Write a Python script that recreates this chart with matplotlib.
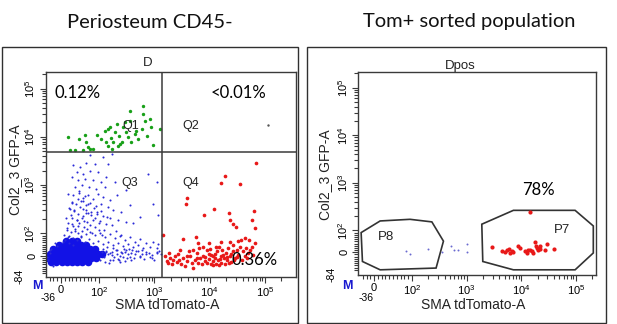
import numpy as np
import matplotlib
matplotlib.use("Agg")
import matplotlib.pyplot as plt
from matplotlib.patches import Rectangle, Polygon

plt.rcParams['font.family'] = ['Liberation Sans', 'DejaVu Sans']
plt.rcParams['mathtext.fontset'] = 'custom'
plt.rcParams['mathtext.rm'] = 'Liberation Sans'
plt.rcParams['mathtext.it'] = 'Liberation Sans:italic'

W, H = 617, 324

# ---- left panel (Periosteum CD45-) : events ----
green_x = [19, 48, 63, 67, 76, 84, 95, 110, 127, 145, 156, 163, 175, 207, 221, 237, 255, 266, 292, 313,
           335, 360, 370, 386, 443, 475, 508, 586, 611, 625, 673, 722, 828, 863, 951, 1256, 230, 136, 192, 145,
           24, 37, 58, 71, 168]
green_y = [9820, 9100, 11000, 8000, 5650, 5650, 11000, 9100, 13500, 14600, 15800, 9400, 7750, 18500, 6600,
           7200, 7750, 15800, 20000, 12400, 9820, 21700, 34800, 7750, 11500, 13500, 9100, 14600, 29800, 44200,
           21700, 10600, 23500, 15800, 6840, 14600, 10600, 7750, 12400, 6600, 5220, 5220, 5470, 6110, 5650]

red_x = [68900, 18900, 16400, 35300, 3820, 3720, 12100, 7990, 22700, 23300, 26800, 29900, 63400, 57500,
         66100, 1445, 3330, 5640, 6050, 43500, 50700, 33000, 16400, 23300,
         1550, 1710, 1910, 2130, 2350, 2520, 2810, 3100, 3330, 3560, 3930, 4390, 4710, 5050, 5410, 5800, 6220,
         6660, 7140, 7650, 8200, 8810, 9050, 9840, 10400, 10800, 11600, 12500, 13000, 13700, 14300, 14900,
         15800, 16400, 17100, 18100, 18900, 19700, 20800, 21700, 23300, 24900, 26800, 28700, 30800, 33000,
         35300, 37900, 40600, 43500, 45400, 48000, 50000, 53700, 57500, 61700, 66100, 1850, 2700, 4280, 6490,
         10100, 13000, 26100, 36300, 9840, 7650, 4910, 2890,
         11300, 12600, 15400, 17600, 20300, 22000, 24600, 27500, 31600, 14500, 11600, 9570, 8320, 5970, 3820,
         2190, 1800]
red_y = [2860, 1520, 1125, 1070, 552, 403, 328, 246, 267, 188, 156, 133, 293, 194, 127, 92, 75, 85, 59, 81,
         70, 67, 63, 63,
         -3, -25, -10, -40, -3, -29, -18, -40, -10, -47, -25, -3, -35, -54, -18, 12, -32, -10, -40, 0, -25, 26,
         -35, -15, -40, 4, -25, -10, -40, 19, -18, 41, 0, -32, 26, -10, -40, 12, -18, 34, -3, -29, 19, -10, 26,
         4, 41, -18, 19, 0, 34, -10, 12, 26, 41, 4, 56, 12, 9, 19, 34, 29, 38, 48, 70, 56, 41, 26, 26,
         -3, 9, -15, 4, -6, -32, 9, -21, -6, -44, -44, 9, -6, -10, 0, -18, -35]

blue_x = [75.7, 118, 168, 32.2, 49.6, 67, 88.8, 146, 40.9, 58.3, 75.7, 97.5, 27.9, 45.3, 62.7, 84.4, 110, 136,
          193, 36.6, 54, 74, 93.1, 127, 774, 1096, 313,
          19.2, 32.2, 47.9, 58.3, 71.4, 84.4, 97.5, 118, 156, 207, 27.9, 39.2, 51.3, 65.3, 77.4, 91.4, 110, 146,
          180, 254, 360, 547, 953, 1175, 23.5, 34, 45.3, 56.6, 67, 80.1, 94.8, 118, 156, 221, 313, 414, 27.9,
          40.9, 54, 68.7, 84.4, 100, 136, 19.2, 32.2, 47.9, 60.9,
          14.8, 25.2, 36.6, 45.3, 54, 65.3, 75.7, 88.8, 103, 127, 156, 193, 237, 292, 360, 444, 547, 721, 953,
          1175, 19.2, 30.5, 40.9, 51.3, 62.7, 74, 84.4, 97.5, 118, 146, 180, 221, 273, 336, 414, 509, 628, 830,
          1096, 10.5, 21.8, 32.2,
          207, 254, 313, 386, 475, 586, 721, 889, 1096, 1295, 237, 360, 547, 830, 168, 136,
          180, 220, 260, 300, 350, 420, 500, 650, 180, 150, 140, 200, 280, 320, 240, 400, 700, 900, 1100, 160,
          130, 120,
          -34, -30, -36, -25, -20, -10, 5, -15, -28,
          8, 15, 22, 30, 38, 45, 52, 60, 68, 75, 82, 90, 100, 112, 125, 12, 26, 41, 57, 72, 88, 105,
          20, 35, 50, 65, 80, 95, 44, 58, 70, 86, 30, 62, 48, 110, 140, 170, 200, 250,
          105, 115, 125, 135, 145, 155, 170, 185, 210, 230, 270, 290, 330, 380, 450, 550, 600, 800, 1000, 1200]
blue_y = [4120, 3800, 4315, 2560, 2370, 2860, 2690, 2775, 1870, 1725, 1960, 1870, 1470, 1260, 1360, 1300, 1160,
          1470, 1160, 916, 990, 916, 846, 916, 1725, 1160, 782,
          667, 617, 689, 552, 617, 526, 667, 570, 486, 617, 450, 415, 471, 383, 429, 366, 402, 354, 303, 279,
          383, 220, 415, 239, 327, 293, 258, 327, 267, 239, 279, 228, 204, 188, 174, 161, 204, 188, 213, 174,
          188, 166, 156, 161, 142, 161, 133,
          117, 108, 121, 100, 113, 96.8, 108, 92.4, 103, 85, 96.8, 77.7, 88, 70.4, 82, 63, 73.3, 55.7, 63, 52.8,
          85, 77.7, 70.4, 82, 63, 73.3, 55.7, 67.5, 52.8, 63, 48.4, 58.7, 44, 52.8, 41, 48.4, 33.7, 41, 33.7,
          70.4, 55.7, 48.4,
          26.4, 14.6, 23.5, 11.7, 19, 8.8, 14.6, 4.4, 11.7, 7.3, -3, -5.9, -3, -5.9, 4.4, 14.6,
          -20, -15, 10, -25, 30, -10, 20, -15, 35, -35, 40, 25, 30, -12, -30, 25, 5, -10, 18, 10, -28, 30,
          -20, 10, -5, 30, -45, 45, 60, 55, 25,
          95, 130, 88, 160, 110, 140, 90, 180, 125, 150, 100, 135, 115, 95, 120, 210, 240, 190, 230, 260, 205, 180,
          330, 300, 360, 310, 280, 250, 520, 460, 400, 340, 420, 600, 750, 290, 220, 150, 110, 95,
          -22, 15, -8, 22, 5, -18, 18, -5, 8, -20, -8, 15, 5, -20, 8, -8, 25, 12, -18, 20]

# saturated core of the negative population
core_x = [-25, -12, 2, 15, 28, 42, 56, 70,
          -33, -20, -6, 8, 22, 36, 50, 64, 78, 92,
          -30, -16, -2, 12, 26, 40, 54, 68, 82, 96, 115,
          -22, -8, 6, 20, 34, 48, 62, 76, 90,
          -5, 10, 24, 38, 52, 66,
          12, 28, 42]
core_y = [-30, -30, -30, -30, -30, -30, -30, -30,
          -12, -12, -12, -12, -12, -12, -12, -12, -12, -12,
          8, 8, 8, 8, 8, 8, 8, 8, 8, 8, 8,
          28, 28, 28, 28, 28, 28, 28, 28, 28,
          48, 48, 48, 48, 48, 48,
          66, 66, 66]

q2_x, q2_y = [115000], [17700]
quad_x, quad_y = 1350, 4900

# ---- right panel (Tom+ sorted) ----
p7_x = [2890, 4400, 5070, 5590, 5990, 6700, 7190, 8870, 9520, 11700, 12600, 13500, 14500, 15600, 17900,
        18700, 19800, 20600, 22100, 27300, 30100, 39900, 14500, 6250, 16700, 22100]
p7_y = [23, 5, 2, 9, 16, 5, 0, 28, 20, 5, -3, 9, 12, 5, 47, 28, 20, 12, 31, 12, 39, 17, 244, -3, -3, 16]
neg_x = [84.8, 95, 201, 362, 514, 592, 711, 1010, 1010]
neg_y = [8, -7.7, 15.6, 1.6, 31, 9.4, 12.5, 39, 0]

gate_p8_x = [-34.5, 15.9, 95, 232, 378, 277, 15.9, -31]
gate_p8_y = [90, 158, 171, 151, 51, -72, -80, -42]
gate_p7_x = [1900, 7190, 96600, 208000, 208000, 96600, 7190, 1980]
gate_p7_y = [135, 264, 264, 124, -3, -80, -80, -42]


def biex(lin):
    def fwd(v):
        v = np.asarray(v, float)
        a = np.abs(v)
        return np.where(a <= 100, v / 100 * lin,
                        np.sign(v) * (lin + np.log10(np.maximum(a, 100) / 100)))

    def inv(u):
        u = np.asarray(u, float)
        a = np.abs(u)
        return np.where(a <= lin, u / lin * 100,
                        np.sign(u) * 100 * 10 ** (np.maximum(a, lin) - lin))
    return fwd, inv


EDGE = '#3a3a3a'
major = [0, 1e2, 1e3, 1e4, 1e5]
major_lbl = ['0', '$10^2$', '$10^3$', '$10^4$', '$10^5$']
dec_minor = [k * 10 ** e for e in (2, 3, 4) for k in range(2, 10)] + [2e5]
xminor = [-30, -20, -10, 10, 20, 30, 40, 50, 60, 70, 80, 90] + dec_minor
yminor = [-80, -70, -60, -50, -40, -30, -20, -10, 10, 20, 30, 40, 50, 60, 70, 80, 90] + dec_minor


def setup(ax, xlim, ylim):
    ax.set_xscale('function', functions=biex(0.69))
    ax.set_yscale('function', functions=biex(0.46))
    ax.set_xlim(xlim)
    ax.set_ylim(ylim)
    ax.set_xticks(major, major_lbl)
    ax.set_yticks(major, major_lbl)
    ax.set_xticks([v for v in xminor if xlim[0] < v < xlim[1]], minor=True)
    ax.set_yticks([v for v in yminor if ylim[0] < v < ylim[1]], minor=True)
    ax.tick_params(which='both', direction='out', color=EDGE, width=0.8, labelsize=8, pad=1.5)
    ax.tick_params(which='major', length=4.5)
    ax.tick_params(which='minor', length=3)
    ax.tick_params(axis='y', labelrotation=90)
    for lbl in ax.get_yticklabels():
        lbl.set_va('center')
    for s in ax.spines.values():
        s.set_color(EDGE)
        s.set_linewidth(1.0)


def ftext(x, y, s, **kw):
    fig.text(x / W, 1 - y / H, s, ha='center', va='center', **kw)


fig = plt.figure(figsize=(W / 100, H / 100), dpi=100)

# outer frames
for x0, x1 in [(1.7, 297.7), (307.3, 605.7)]:
    fig.patches.append(Rectangle((x0 / W, 1 - 322.7 / H), (x1 - x0) / W, 275.4 / H,
                                 transform=fig.transFigure, fill=False, ec='#303030', lw=1.0))

axL = fig.add_axes([45.7 / W, 1 - 276.7 / H, 250.3 / W, 205 / H])
setup(axL, (-40, 3.66e5), (-95, 2.24e5))
axL.scatter(core_x, core_y, s=30, c='#1212e6', lw=0, zorder=2)
axL.scatter(blue_x, blue_y, s=2.2, c='#2a2ad8', lw=0, zorder=2)
axL.scatter(green_x, green_y, s=6, c='#18a018', lw=0, zorder=2)
axL.scatter(red_x, red_y, s=7, c='#e81818', lw=0, zorder=2)
axL.scatter(q2_x, q2_y, s=3, c='#555555', lw=0, zorder=2)
axL.axvline(quad_x, color=EDGE, lw=1.1, zorder=3)
axL.axhline(quad_y, color=EDGE, lw=1.1, zorder=3)

axR = fig.add_axes([358.3 / W, 1 - 275 / H, 237.4 / W, 202.7 / H])
setup(axR, (-42, 2.3e5), (-104, 2.1e5))
axR.add_patch(Polygon(list(zip(gate_p8_x, gate_p8_y)), closed=True, fill=False, ec='#333333', lw=1.2))
axR.add_patch(Polygon(list(zip(gate_p7_x, gate_p7_y)), closed=True, fill=False, ec='#333333', lw=1.2))
axR.scatter(neg_x, neg_y, s=2, c='#6a6ad0', lw=0, zorder=2)
axR.scatter(p7_x, p7_y, s=9, c='#e81818', lw=0, zorder=2)

# titles
ftext(150, 22, 'Periosteum CD45-', fontsize=14.5, family='Lato', color='#111111')
ftext(469, 22, 'Tom+ sorted population', fontsize=14.5, family='Lato', color='#111111')

# left panel annotations
ftext(148, 63, 'D', fontsize=9.5, color='#222222')
ftext(78, 93, '0.12%', fontsize=12, family='Lato')
ftext(239, 93, '<0.01%', fontsize=12, family='Lato')
ftext(255, 260, '0.36%', fontsize=12, family='Lato')
ftext(131, 126, 'Q1', fontsize=9, color='#222222')
ftext(191, 126, 'Q2', fontsize=9, color='#222222')
ftext(130, 183, 'Q3', fontsize=9, color='#222222')
ftext(191, 183, 'Q4', fontsize=9, color='#222222')
ftext(167, 305, 'SMA tdTomato-A', fontsize=10, color='#222222')
ftext(15, 170, 'Col2_3 GFP-A', fontsize=10, rotation=90, color='#222222')
ftext(48, 298, '-36', fontsize=7.5)
ftext(20, 276, '-84', fontsize=7.5, rotation=90)
ftext(37, 286, 'M', fontsize=9, fontweight='bold', color='#1a1ad0')

# right panel annotations
ftext(460, 66, 'Dpos', fontsize=9.5, color='#222222')
ftext(538, 190, '78%', fontsize=12, family='Lato')
ftext(386, 237, 'P8', fontsize=9.5, color='#222222')
ftext(562, 230, 'P7', fontsize=9.5, color='#222222')
ftext(473, 305, 'SMA tdTomato-A', fontsize=10, color='#222222')
ftext(325, 175, 'Col2_3 GFP-A', fontsize=10, rotation=90, color='#222222')
ftext(366, 298, '-36', fontsize=7.5)
ftext(332, 274, '-84', fontsize=7.5, rotation=90)
ftext(347, 286, 'M', fontsize=9, fontweight='bold', color='#1a1ad0')

fig.savefig('out.png', dpi=100)
